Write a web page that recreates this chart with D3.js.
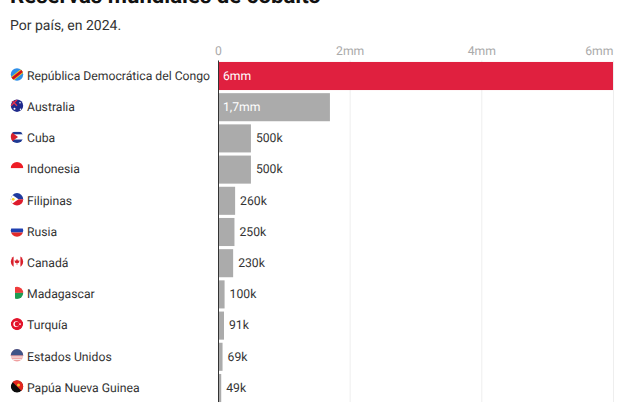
<!DOCTYPE html>
<html>
<head>
<meta charset="utf-8">
<script src="https://cdn.jsdelivr.net/npm/d3@7"></script>
<style>
  html, body { margin: 0; padding: 0; background: #fff; overflow: hidden; }
  text { font-family: Roboto, sans-serif; text-rendering: geometricPrecision; }
</style>
</head>
<body>
<script>
const WIDTH = 624
const HEIGHT = 416

// Datos
const paises = ["República Democrática del Congo", "Australia", "Cuba", "Indonesia", "Filipinas", "Rusia", "Canadá", "Madagascar", "Turquía", "Estados Unidos", "Papúa Nueva Guinea"]
const reservas = [6000000, 1700000, 500000, 500000, 260000, 250000, 230000, 100000, 91000, 69000, 49000]
const etiquetas = ["6mm", "1,7mm", "500k", "500k", "260k", "250k", "230k", "100k", "91k", "69k", "49k"]
const banderas = ["cd", "au", "cu", "id", "ph", "ru", "ca", "mg", "tr", "us", "pg"]
const ticks = [0, 2000000, 4000000, 6000000]
const ticksTexto = ["0", "2mm", "4mm", "6mm"]

const svg = d3.select("body").append("svg")
    .attr("width", WIDTH)
    .attr("height", HEIGHT)
    .style("display", "block")

const x = d3.scaleLinear().domain([0, 6000000]).range([218, 613])
const y = d3.scaleBand().domain(paises).range([60.4, 403.6]).paddingInner(0.1).paddingOuter(0.05)

// Título
svg.append("text").text("Reservas mundiales de cobalto")
    .attr("x", 10).attr("y", 2.5)
    .attr("font-size", 22.2).attr("font-weight", 700).attr("fill", "#111")
svg.append("text").text("Por país, en 2024.")
    .attr("x", 10).attr("y", 30)
    .attr("font-size", 14).attr("fill", "#333")

// Rejilla y eje
const eje = svg.append("g")
    .attr("transform", "translate(0,60.5)")
    .call(d3.axisTop(x).tickValues(ticks).tickFormat((d, i) => ticksTexto[i]).tickSize(-341.5).tickPadding(6))
eje.select(".domain").remove()
eje.selectAll("line").attr("stroke", "#eeeeee")
eje.selectAll("text")
    .attr("fill", "#aaa")
    .attr("font-size", 12.2)
    .attr("font-family", "Roboto, sans-serif")
    .attr("text-anchor", (d, i) => i == 3 ? "end" : "middle")

// Barras
svg.selectAll(".barra")
    .data(paises)
    .enter()
    .append("rect")
    .attr("class", "barra")
    .attr("x", x(0))
    .attr("y", d => y(d))
    .attr("width", (d, i) => x(reservas[i]) - x(0))
    .attr("height", y.bandwidth())
    .attr("fill", (d, i) => i == 0 ? "#e0203f" : "#ababab")

// Línea base
svg.append("line")
    .attr("x1", x(0) + 0.5).attr("x2", x(0) + 0.5)
    .attr("y1", 60.5).attr("y2", 402)
    .attr("stroke", "#333").attr("stroke-width", 1)

// Etiquetas de valor
svg.selectAll(".valor")
    .data(paises)
    .enter()
    .append("text")
    .attr("class", "valor")
    .text((d, i) => etiquetas[i])
    .attr("x", (d, i) => i < 2 ? x(0) + 5 : x(reservas[i]) + 5)
    .attr("y", d => y(d) + y.bandwidth() / 2 - 0.5)
    .attr("dy", "0.35em")
    .attr("font-size", 12.2)
    .attr("fill", (d, i) => i < 2 ? "#fff" : "#333")

// Nombres de país
svg.selectAll(".pais")
    .data(paises)
    .enter()
    .append("text")
    .attr("class", "pais")
    .text(d => d)
    .attr("x", 27)
    .attr("y", d => y(d) + y.bandwidth() / 2 - 0.5)
    .attr("dy", "0.35em")
    .attr("font-size", 12.2)
    .attr("fill", "#333")

// Banderas, dibujadas en un círculo de radio 6
const defs = svg.append("defs")
defs.append("clipPath").attr("id", "circulo").append("circle").attr("r", 6.2)

const dibujos = {
    cd: g => {
        g.append("rect").attr("x", -7).attr("y", -7).attr("width", 14).attr("height", 14).attr("fill", "#2f8fe8")
        g.append("path").attr("d", "M-7,6 L7,-5").attr("stroke", "#f7d618").attr("stroke-width", 4.4)
        g.append("path").attr("d", "M-7,6 L7,-5").attr("stroke", "#ce1021").attr("stroke-width", 2.8)
    },
    au: g => {
        g.append("rect").attr("x", -7).attr("y", -7).attr("width", 14).attr("height", 14).attr("fill", "#1f2a8c")
        g.append("path").attr("d", "M-6,-6 L0,0 M0,-6 L-6,0").attr("stroke", "#e8304a").attr("stroke-width", 1.3)
        g.append("circle").attr("cx", -2.5).attr("cy", 3).attr("r", 1).attr("fill", "#fff")
        g.append("circle").attr("cx", 3).attr("cy", -3).attr("r", .8).attr("fill", "#fff")
        g.append("circle").attr("cx", 3.5).attr("cy", 3.5).attr("r", .8).attr("fill", "#fff")
    },
    cu: g => {
        g.append("rect").attr("x", -7).attr("y", -7).attr("width", 14).attr("height", 14).attr("fill", "#fff")
        g.append("rect").attr("x", -7).attr("y", -5).attr("width", 14).attr("height", 2.4).attr("fill", "#1f3a93")
        g.append("rect").attr("x", -7).attr("y", 2.6).attr("width", 14).attr("height", 3.6).attr("fill", "#1f3a93")
        g.append("path").attr("d", "M-7,-6 L1,0 L-7,6 Z").attr("fill", "#d5202c")
    },
    id: g => {
        g.append("rect").attr("x", -7).attr("y", -7).attr("width", 14).attr("height", 7).attr("fill", "#ee1c25")
    },
    ph: g => {
        g.append("rect").attr("x", -7).attr("y", -7).attr("width", 14).attr("height", 7).attr("fill", "#1f3a9e")
        g.append("rect").attr("x", -7).attr("y", 0).attr("width", 14).attr("height", 7).attr("fill", "#dd1c2c")
        g.append("path").attr("d", "M-7,-6 L1.5,0 L-7,6 Z").attr("fill", "#fff")
        g.append("circle").attr("cx", -3.8).attr("cy", 0).attr("r", 1.4).attr("fill", "#f5d327")
    },
    ru: g => {
        g.append("rect").attr("x", -7).attr("y", -2).attr("width", 14).attr("height", 4).attr("fill", "#1f3fb0")
        g.append("rect").attr("x", -7).attr("y", 2).attr("width", 14).attr("height", 5).attr("fill", "#e22a2a")
    },
    ca: g => {
        g.append("rect").attr("x", -7).attr("y", -7).attr("width", 3.6).attr("height", 14).attr("fill", "#d9202c")
        g.append("rect").attr("x", 3.4).attr("y", -7).attr("width", 3.6).attr("height", 14).attr("fill", "#d9202c")
        g.append("path").attr("d", "M0,-3 L1,-1 L2.5,-1.5 L2,1 L0.4,1.4 L0.4,3 L-0.4,3 L-0.4,1.4 L-2,1 L-2.5,-1.5 L-1,-1 Z").attr("fill", "#d9202c")
    },
    mg: g => {
        g.append("rect").attr("x", -2).attr("y", -7).attr("width", 9).attr("height", 7).attr("fill", "#ef3b3b")
        g.append("rect").attr("x", -2).attr("y", 0).attr("width", 9).attr("height", 7).attr("fill", "#1e9c52")
    },
    tr: g => {
        g.append("circle").attr("r", 6.2).attr("fill", "#e3142b")
        g.append("circle").attr("cx", -0.8).attr("r", 2.9).attr("fill", "#fff")
        g.append("circle").attr("cx", 0).attr("r", 2.3).attr("fill", "#e3142b")
        g.append("circle").attr("cx", 3).attr("r", 0.9).attr("fill", "#fff")
    },
    us: g => {
        g.append("rect").attr("x", -7).attr("y", -7).attr("width", 14).attr("height", 14).attr("fill", "#f0a0a0")
        g.append("rect").attr("x", -7).attr("y", 1.2).attr("width", 14).attr("height", 1.1).attr("fill", "#f3e6e6")
        g.append("rect").attr("x", -7).attr("y", 3.6).attr("width", 14).attr("height", 1.1).attr("fill", "#f3e6e6")
        g.append("rect").attr("x", -7).attr("y", -7).attr("width", 14).attr("height", 7).attr("fill", "#3f5488")
    },
    pg: g => {
        g.append("circle").attr("r", 6.2).attr("fill", "#0c0c0c")
        g.append("path").attr("d", "M-7,-7 L7,-7 L7,7 Z").attr("fill", "#e2261e")
        g.append("circle").attr("cx", 1.5).attr("cy", -1.5).attr("r", 1.5).attr("fill", "#f5c330")
    }
}

svg.selectAll(".bandera")
    .data(paises)
    .enter()
    .append("g")
    .attr("class", "bandera")
    .attr("transform", d => `translate(17,${y(d) + y.bandwidth() / 2 - 1.5})`)
    .attr("clip-path", "url(#circulo)")
    .each(function(d, i) { dibujos[banderas[i]](d3.select(this)) })
</script>
</body>
</html>
